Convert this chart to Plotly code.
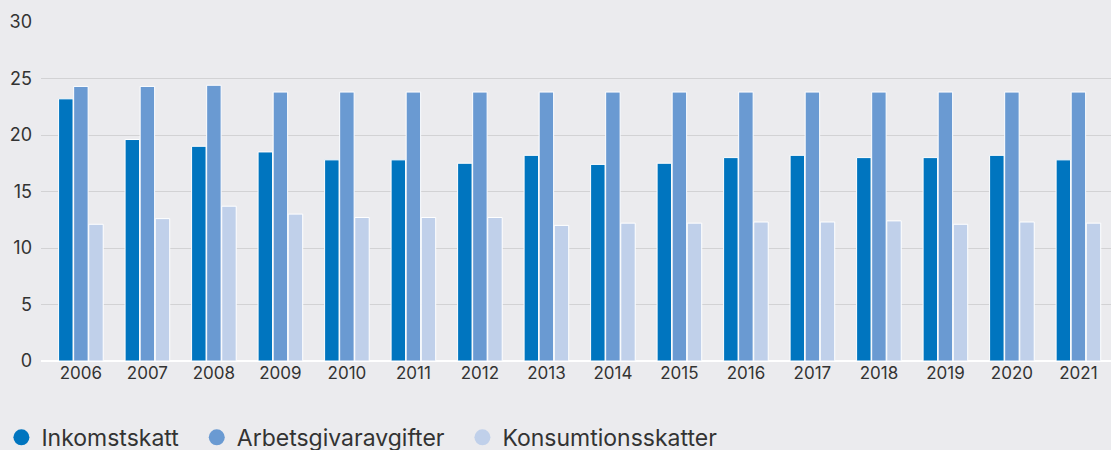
import plotly.graph_objects as go

years = [str(y) for y in range(2006, 2022)]
inkomstskatt = [23.2, 19.6, 19.0, 18.5, 17.8, 17.8, 17.5, 18.2, 17.4, 17.5, 18.0, 18.2, 18.0, 18.0, 18.2, 17.8]
arbetsgivar = [24.3, 24.3, 24.4, 23.8, 23.8, 23.8, 23.8, 23.8, 23.8, 23.8, 23.8, 23.8, 23.8, 23.8, 23.8, 23.8]
konsumtion = [12.1, 12.6, 13.7, 13.0, 12.7, 12.7, 12.7, 12.0, 12.2, 12.2, 12.3, 12.3, 12.4, 12.1, 12.3, 12.2]
series_names = ["Inkomstskatt", "Arbetsgivaravgifter", "Konsumtionsskatter"]
colors = ["#0075BF", "#6A9AD2", "#C0D0EA"]
y_ticks = [0, 5, 10, 15, 20, 25, 30]

fig = go.Figure()
for name, vals, col in zip(series_names, [inkomstskatt, arbetsgivar, konsumtion], colors):
    fig.add_trace(go.Bar(x=years, y=vals, name=name, marker=dict(color=col, line=dict(color="white", width=1)),
                         showlegend=False))
for name, col in zip(series_names, colors):
    fig.add_trace(go.Scatter(x=[None], y=[None], mode="markers", name=name + "\u00a0\u00a0",
                             marker=dict(symbol="circle", size=20, color=col)))

fig.update_layout(
    width=1111, height=450,
    paper_bgcolor="#EBEBEE", plot_bgcolor="#EBEBEE",
    margin=dict(l=41, r=0, t=22, b=89, autoexpand=False),
    barmode="group", bargap=0.32, bargroupgap=0.04,
    font=dict(family="Inter, Roboto, sans-serif", size=17, color="#333333"),
    xaxis=dict(type="category", range=[-0.6, 15.49], showgrid=False, ticks="", tickfont=dict(size=17)),
    yaxis=dict(range=[0, 30], tickvals=y_ticks, showgrid=True, gridcolor="#D2D2D4", gridwidth=1,
               zeroline=True, zerolinecolor="white", zerolinewidth=2, ticks="", ticklabelstandoff=8,
               tickfont=dict(size=18)),
    legend=dict(orientation="h", x=-0.037, xanchor="left", y=-0.162, yanchor="top",
                font=dict(size=23, color="#333333"), itemsizing="trace", bgcolor="rgba(0,0,0,0)",
                itemwidth=30),
)
fig.write_html(
    "out.html",
    config={"displayModeBar": False},
    post_script="document.body.style.margin='0';document.body.style.overflow='hidden';"
                "document.body.style.background='#EBEBEE';",
)
